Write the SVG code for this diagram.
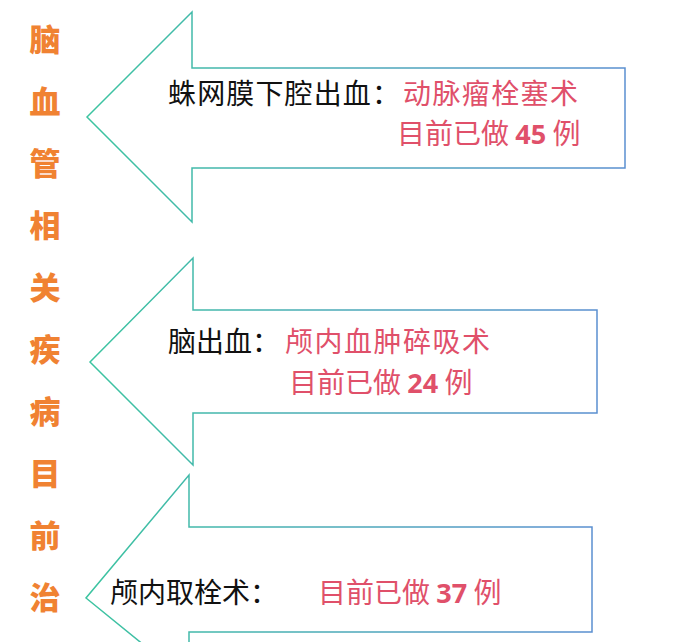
<svg xmlns="http://www.w3.org/2000/svg" width="692" height="642" viewBox="0 0 692 642">
<defs>
<linearGradient id="g" x1="0" y1="0" x2="1" y2="0"><stop offset="0" stop-color="#3cc4a0"/><stop offset="1" stop-color="#5a8fd0"/></linearGradient>
<style>
.ar{fill:#fff;stroke:url(#g);stroke-width:1.5}
.v{font-family:"Noto Sans CJK SC",sans-serif;font-weight:900;font-size:31px;fill:#f08232;text-anchor:middle}
.k{font-family:"Noto Sans CJK SC",sans-serif;font-size:28px;fill:#111}
.p{font-family:"Noto Sans CJK SC",sans-serif;font-size:28px;fill:#e0506a}
.n{font-family:"Open Sans","Noto Sans",sans-serif;font-weight:bold;font-size:27px}
</style>
</defs>
<rect width="692" height="642" fill="#fff"/>
<g id="title">
<text class="v" x="45" y="51">脑</text><text class="v" x="45" y="113">血</text><text class="v" x="45" y="175">管</text><text class="v" x="45" y="237">相</text><text class="v" x="45" y="299">关</text><text class="v" x="45" y="361">疾</text><text class="v" x="45" y="423">病</text><text class="v" x="45" y="485">目</text><text class="v" x="45" y="547">前</text><text class="v" x="45" y="609">治</text>
</g>
<g id="node1">
<polygon class="ar" points="87,117 192,12 192,68 625,68 625,168 192,168 192,222"/>
<text class="k" x="168" y="104" textLength="232">蛛网膜下腔出血：</text>
<text class="p" x="403" y="104" textLength="175">动脉瘤栓塞术</text>
<text class="p" x="397" y="144">目前已做 <tspan class="n">45</tspan> 例</text>
</g>
<g id="node2">
<polygon class="ar" points="90,362 193,258 193,310 597,310 597,413 193,413 193,465"/>
<text class="k" x="168" y="352">脑出血：</text>
<text class="p" x="285" y="352" textLength="205">颅内血肿碎吸术</text>
<text class="p" x="289" y="393">目前已做 <tspan class="n">24</tspan> 例</text>
</g>
<g id="node3">
<polygon class="ar" points="150,650 86,598 189,475 189,527 592,527 592,632 189,632 189,650"/>
<text class="k" x="110" y="603">颅内取栓术：</text>
<text class="p" x="318" y="603">目前已做 <tspan class="n">37</tspan> 例</text>
</g>
</svg>
